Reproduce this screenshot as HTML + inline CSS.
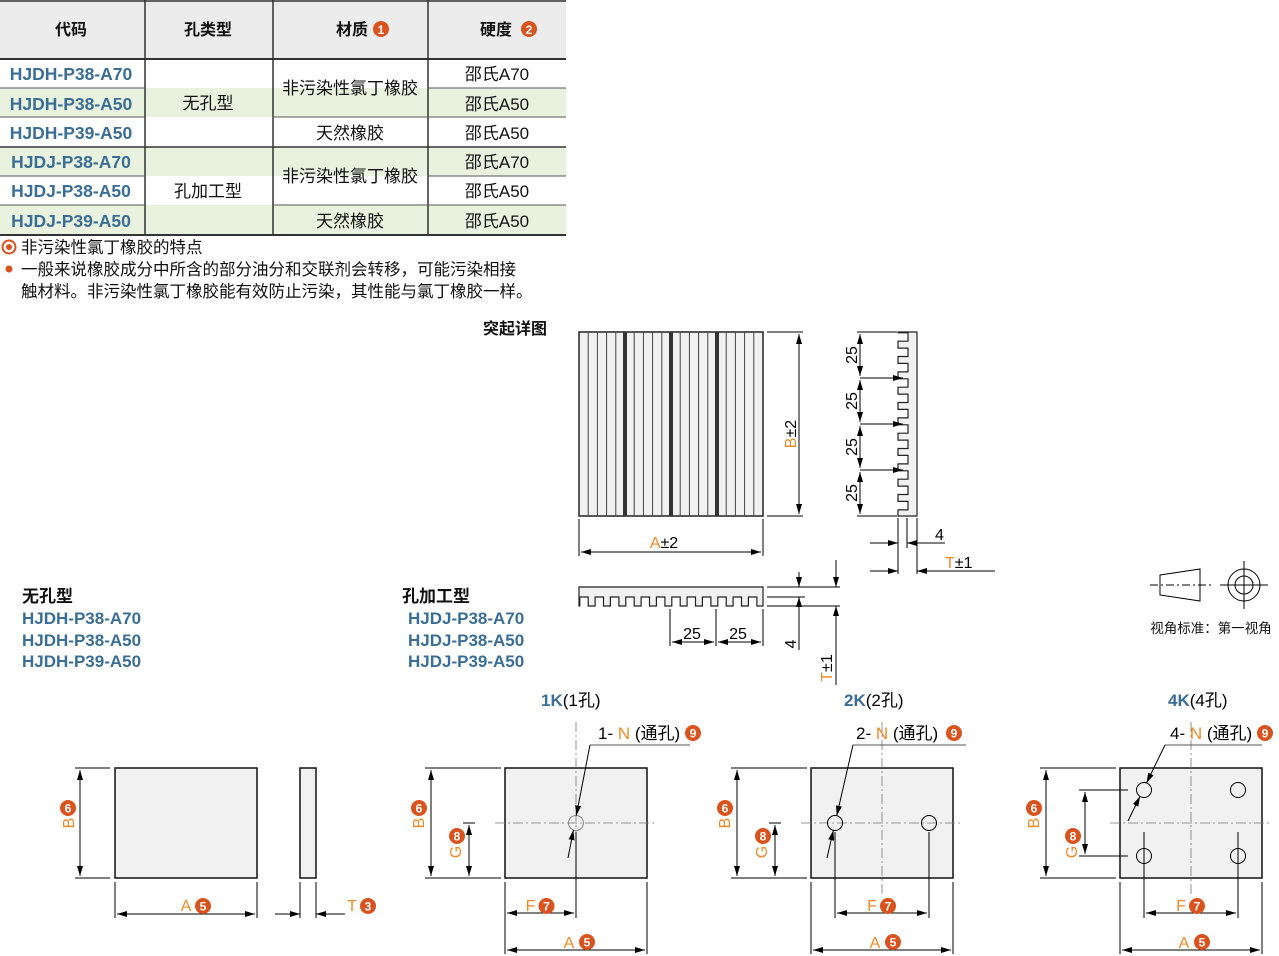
<!DOCTYPE html>
<html><head><meta charset="utf-8"><style>
html,body{margin:0;padding:0;background:#fff;}
svg{display:block;font-family:"Liberation Sans","Noto Sans CJK SC",sans-serif;}
.b{fill:#3b6e96;font-weight:bold;}
.o{fill:#f08a2a;}
</style></head><body>
<svg id="s" width="1279" height="956" viewBox="0 0 1279 956" xmlns="http://www.w3.org/2000/svg">
<defs>
<marker id="a" viewBox="0 0 10 6" refX="10" refY="3" markerWidth="10" markerHeight="6" markerUnits="userSpaceOnUse" orient="auto-start-reverse"><path d="M0,0 L10,3 L0,6 z" fill="#000"/></marker>
</defs>
<!-- table -->
<rect x="0" y="0" width="566" height="59" fill="#ececec"/>
<rect x="0" y="88" width="566" height="29" fill="#e9f2df"/>
<rect x="0" y="147" width="566" height="29" fill="#e9f2df"/>
<rect x="0" y="205" width="566" height="30" fill="#e9f2df"/>
<g stroke="#333" stroke-width="1.5">
<line x1="0" y1="1" x2="566" y2="1"/><line x1="0" y1="59" x2="566" y2="59" stroke-width="2"/>
<line x1="0" y1="147" x2="566" y2="147"/><line x1="0" y1="235" x2="566" y2="235" stroke-width="2"/>
<line x1="145" y1="0" x2="145" y2="235"/><line x1="273" y1="0" x2="273" y2="235"/><line x1="428" y1="0" x2="428" y2="235"/>
</g>
<g stroke="#555" stroke-width="1">
<line x1="0" y1="88" x2="145" y2="88"/><line x1="0" y1="117" x2="145" y2="117"/><line x1="0" y1="176" x2="145" y2="176"/><line x1="0" y1="205" x2="145" y2="205"/>
<line x1="428" y1="88" x2="566" y2="88"/><line x1="428" y1="176" x2="566" y2="176"/>
<line x1="273" y1="117" x2="566" y2="117"/><line x1="273" y1="205" x2="566" y2="205"/>
</g>
<g font-size="16" font-weight="bold" text-anchor="middle" fill="#111">
<text x="71" y="35">代码</text><text x="208" y="35">孔类型</text><text x="352" y="35">材质</text><text x="496" y="35">硬度</text>
</g>
<circle cx="381" cy="29" r="8" fill="#d9531e"/><text x="381" y="34" font-size="12" font-weight="bold" fill="#fff" text-anchor="middle">1</text>
<circle cx="529" cy="29" r="8" fill="#d9531e"/><text x="529" y="34" font-size="12" font-weight="bold" fill="#fff" text-anchor="middle">2</text>
<g font-size="17.5" class="b" text-anchor="middle">
<text x="71" y="80">HJDH-P38-A70</text><text x="71" y="110">HJDH-P38-A50</text><text x="71" y="139">HJDH-P39-A50</text>
<text x="71" y="168">HJDJ-P38-A70</text><text x="71" y="197">HJDJ-P38-A50</text><text x="71" y="227">HJDJ-P39-A50</text>
</g>
<g font-size="17" fill="#111" text-anchor="middle">
<text x="208" y="109">无孔型</text><text x="208" y="197">孔加工型</text>
<text x="350" y="94">非污染性氯丁橡胶</text><text x="350" y="139">天然橡胶</text>
<text x="350" y="182">非污染性氯丁橡胶</text><text x="350" y="227">天然橡胶</text>
<text x="497" y="80">邵氏A70</text><text x="497" y="110">邵氏A50</text><text x="497" y="139">邵氏A50</text>
<text x="497" y="168">邵氏A70</text><text x="497" y="197">邵氏A50</text><text x="497" y="227">邵氏A50</text>
</g>
<circle cx="9" cy="247" r="6.5" fill="none" stroke="#d9531e" stroke-width="2"/><circle cx="9" cy="247" r="3" fill="#d9531e"/>
<g font-size="16.5" fill="#111">
<text x="21" y="253">非污染性氯丁橡胶的特点</text>
<text x="21" y="275">一般来说橡胶成分中所含的部分油分和交联剂会转移，可能污染相接</text>
<text x="21" y="297">触材料。非污染性氯丁橡胶能有效防止污染，其性能与氯丁橡胶一样。</text>
</g>
<circle cx="9" cy="269" r="3.5" fill="#d9531e"/>

<text x="515" y="334" font-size="16" font-weight="bold" text-anchor="middle" fill="#111">突起详图</text>

<!-- front view -->
<rect x="579" y="332" width="184" height="184" fill="#f1f1f1" stroke="#222" stroke-width="1.5"/>
<g id="stripes" stroke="#333" stroke-width="1"></g>
<g stroke="#000" stroke-width="1" fill="none">
<line x1="767" y1="332" x2="803" y2="332"/><line x1="767" y1="516" x2="803" y2="516"/>
<line x1="799" y1="334" x2="799" y2="514" marker-start="url(#a)" marker-end="url(#a)"/>
<line x1="579" y1="519" x2="579" y2="556"/><line x1="763" y1="519" x2="763" y2="556"/>
<line x1="581" y1="552" x2="761" y2="552" marker-start="url(#a)" marker-end="url(#a)"/>
</g>
<text x="796" y="434" font-size="16" transform="rotate(-90 796 434)" text-anchor="middle"><tspan class="o">B</tspan>±2</text>
<text x="664" y="548" font-size="16" text-anchor="middle"><tspan class="o">A</tspan>±2</text>

<!-- side view -->
<path id="side" fill="#f1f1f1" stroke="#222" stroke-width="1.2"></path>
<g stroke="#000" stroke-width="1" fill="none">
<line x1="857" y1="332" x2="897" y2="332"/><line x1="857" y1="516" x2="897" y2="516"/>
<line x1="860" y1="378" x2="903" y2="378" marker-end="url(#a)"/>
<line x1="860" y1="424" x2="903" y2="424" marker-end="url(#a)"/>
<line x1="860" y1="470" x2="903" y2="470" marker-end="url(#a)"/>
<line x1="860" y1="334" x2="860" y2="376" marker-start="url(#a)" marker-end="url(#a)"/>
<line x1="860" y1="380" x2="860" y2="422" marker-start="url(#a)" marker-end="url(#a)"/>
<line x1="860" y1="426" x2="860" y2="468" marker-start="url(#a)" marker-end="url(#a)"/>
<line x1="860" y1="472" x2="860" y2="514" marker-start="url(#a)" marker-end="url(#a)"/>
<line x1="898" y1="518" x2="898" y2="574"/><line x1="907" y1="518" x2="907" y2="548"/><line x1="917" y1="518" x2="917" y2="574"/>
<line x1="870" y1="543" x2="898" y2="543" marker-end="url(#a)"/><line x1="945" y1="543" x2="907" y2="543" marker-end="url(#a)"/>
<line x1="870" y1="571" x2="898" y2="571" marker-end="url(#a)"/><line x1="995" y1="571" x2="917" y2="571" marker-end="url(#a)"/>
</g>
<g font-size="16">
<text x="857" y="355" transform="rotate(-90 857 355)" text-anchor="middle">25</text>
<text x="857" y="401" transform="rotate(-90 857 401)" text-anchor="middle">25</text>
<text x="857" y="447" transform="rotate(-90 857 447)" text-anchor="middle">25</text>
<text x="857" y="493" transform="rotate(-90 857 493)" text-anchor="middle">25</text>
<text x="935" y="540">4</text>
<text x="945" y="568"><tspan class="o">T</tspan>±1</text>
</g>

<!-- bottom view -->
<path id="bot" fill="#f1f1f1" stroke="#222" stroke-width="1.2"></path>
<g stroke="#000" stroke-width="1" fill="none">
<line x1="767" y1="587" x2="840" y2="587"/><line x1="767" y1="597" x2="805" y2="597"/><line x1="767" y1="606" x2="840" y2="606"/>
<line x1="799" y1="572" x2="799" y2="587" marker-end="url(#a)"/><line x1="799" y1="650" x2="799" y2="597" marker-end="url(#a)"/>
<line x1="836" y1="560" x2="836" y2="587" marker-end="url(#a)"/><line x1="836" y1="685" x2="836" y2="606" marker-end="url(#a)"/>
<line x1="670" y1="609" x2="670" y2="646"/><line x1="716" y1="609" x2="716" y2="646"/><line x1="763" y1="609" x2="763" y2="646"/>
<line x1="672" y1="642" x2="714" y2="642" marker-start="url(#a)" marker-end="url(#a)"/>
<line x1="718" y1="642" x2="761" y2="642" marker-start="url(#a)" marker-end="url(#a)"/>
</g>
<g font-size="16">
<text x="692" y="639" text-anchor="middle">25</text><text x="738" y="639" text-anchor="middle">25</text>
<text x="796" y="644" transform="rotate(-90 796 644)" text-anchor="middle">4</text>
<text x="832" y="668" transform="rotate(-90 832 668)" text-anchor="middle"><tspan class="o">T</tspan>±1</text>
</g>

<!-- view angle -->
<g stroke="#000" stroke-width="1" fill="none">
<path d="M1160,575 L1200,569 L1200,601 L1160,595 z"/>
<line x1="1150" y1="585" x2="1213" y2="585" stroke-dasharray="8,3,2,3"/>
<circle cx="1244" cy="585" r="16"/><circle cx="1244" cy="585" r="9"/>
<line x1="1220" y1="585" x2="1268" y2="585"/><line x1="1244" y1="561" x2="1244" y2="609"/>
</g>
<text x="1211" y="633" font-size="13.5" text-anchor="middle" fill="#111">视角标准：第一视角</text>

<!-- labels -->
<g font-size="17">
<text x="22" y="602" font-weight="bold" fill="#111">无孔型</text>
<text x="22" y="624" class="b">HJDH-P38-A70</text><text x="22" y="646" class="b">HJDH-P38-A50</text><text x="22" y="667" class="b">HJDH-P39-A50</text>
<text x="402" y="602" font-weight="bold" fill="#111">孔加工型</text>
<text x="408" y="624" class="b">HJDJ-P38-A70</text><text x="408" y="646" class="b">HJDJ-P38-A50</text><text x="408" y="667" class="b">HJDJ-P39-A50</text>
<text x="541" y="706"><tspan class="b">1K</tspan>(1孔)</text>
<text x="844" y="706"><tspan class="b">2K</tspan>(2孔)</text>
<text x="1168" y="706"><tspan class="b">4K</tspan>(4孔)</text>
<text x="598" y="739">1- <tspan class="o">N</tspan> (通孔)</text>
<text x="856" y="739">2- <tspan class="o">N</tspan> (通孔)</text>
<text x="1170" y="739">4- <tspan class="o">N</tspan> (通孔)</text>
</g>
<g id="draw" stroke="#000" stroke-width="1" fill="none"></g>
<g id="txt" font-size="16"></g>
</svg>
<script>
var NS="http://www.w3.org/2000/svg";
function el(p,t,a,txt){var e=document.createElementNS(NS,t);for(var k in a)e.setAttribute(k,a[k]);if(txt!=null)e.textContent=txt;document.getElementById(p).appendChild(e);return e;}
for(var i=1;i<20;i++){var x=579+i*9.2;var d=(i==5||i==10||i==15);el('stripes','line',{x1:x,y1:332,x2:x,y2:516,'stroke-width':d?4:1,stroke:d?'#333':'#444'});}
var P=184/12;
var p="M908,332 L917,332 L917,516 L898,516";
for(var k=0;k<12;k++){var y0=516-k*P;var a=y0-P*0.4;var b=y0-P;p+=" L898,"+a.toFixed(1)+" L908,"+a.toFixed(1)+" L908,"+(b+P*0.05).toFixed(1)+" L898,"+(b+P*0.05).toFixed(1);}
p+=" L898,332 z";
document.getElementById('side').setAttribute('d',p);
var q="M579,587 L763,587 L763,606";
for(var k=0;k<12;k++){var x0=763-k*P;var a=x0-P*0.4;var b=x0-P+P*0.05;q+=" L"+a.toFixed(1)+",606 L"+a.toFixed(1)+",597 L"+b.toFixed(1)+",597 L"+b.toFixed(1)+",606";}
q+=" L579,606 z";document.getElementById('bot').setAttribute('d',q);
function L(x1,y1,x2,y2,m,ex){var o={x1:x1,y1:y1,x2:x2,y2:y2};if(m&1)o['marker-start']='url(#a)';if(m&2)o['marker-end']='url(#a)';if(ex)for(var k in ex)o[k]=ex[k];el('draw','line',o);}
function badge(x,y,n){el('txt','circle',{cx:x,cy:y,r:8,fill:'#d9531e'});el('txt','text',{x:x,y:y+4.5,'font-size':12,'font-weight':'bold',fill:'#fff','text-anchor':'middle'},n);}
function lab(x,y,s,rot){var t=el('txt','text',{x:x,y:y,fill:'#f08a2a','text-anchor':'middle'},s);if(rot){t.setAttribute('transform','rotate(-90 '+x+' '+y+')');}}
var DS={'stroke-dasharray':'10,3,2,3',stroke:'#777','stroke-width':0.8};
el('draw','rect',{x:115,y:768,width:142,height:110,fill:'#f1f1f1',stroke:'#111','stroke-width':1.5});
el('draw','rect',{x:300,y:768,width:16,height:110,fill:'#f1f1f1',stroke:'#111','stroke-width':1.5});
L(75,768,110,768);L(75,878,110,878);L(80,770,80,876,3);
L(115,882,115,918);L(257,882,257,918);L(117,914,255,914,3);
L(300,882,300,918);L(316,882,316,918);L(275,914,300,914,2);L(345,914,316,914,2);
lab(74,823,'B',1);badge(68,808,'6');lab(186,911,'A');badge(203,906,'5');lab(352,911,'T');badge(368,906,'3');
function plate(x0,holes,Bx,Gx,gy1,gy2,fx1,fx2,ul,end,hh){
 el('draw','rect',{x:x0,y:768,width:142,height:110,fill:'#f1f1f1',stroke:'#111','stroke-width':1.5});
 var cx=x0+71;L(cx,722,cx,895,0,DS);L(x0-10,823,x0+152,823,0,DS);
 holes.forEach(function(h){el('draw','circle',{cx:h[0],cy:h[1],r:7.5,stroke:h[2]||'#000'});});
 L(Bx-6,768,x0-4,768);L(Bx-6,878,x0-4,878);L(Bx,770,Bx,876,3);
 L(Gx-6,gy1,x0+(gy1==823?-30:8),gy1);if(gy2!=878)L(Gx-6,gy2,x0+8,gy2);L(Gx,gy1+2,Gx,gy2-2,3);
 L(x0,882,x0,954);L(x0+142,882,x0+142,954);L(x0+2,950,x0+140,950,3);
 L(fx1,fx1==x0?882:832,fx1,918);L(fx2,fx2==x0+142?882:832,fx2,918);L(fx1+2,913,fx2-2,913,3);
 L(ul[0],745,ul[1],745,0,{stroke:'#555'});
 // leader
 var sx=ul[0],sy=745,ex=end[0],ey=end[1];var dx=ex-sx,dy=ey-sy,len=Math.hypot(dx,dy);dx/=len;dy/=len;
 var hx=hh[0],hy=hh[1];var t=(hx-sx)*dx+(hy-sy)*dy;var px=sx+dx*t,py=sy+dy*t;
 var off=Math.hypot(hx-px,hy-py);var r=7.5;var h=Math.sqrt(Math.max(r*r-off*off,1));
 L(sx,sy,px-dx*h,py-dy*h,2);L(ex,ey,px+dx*h,py+dy*h,2);
 lab(Bx-7,823,'B',1);badge(Bx-12,808,'6');lab(Gx-8,852,'G',1);badge(Gx-12,836,'8');
 lab((fx1+fx2)/2-10,911,'F');badge((fx1+fx2)/2+6,906,'7');
 lab(x0+64,948,'A');badge(x0+82,942,'5');
}
plate(505,[[576,823,'#888']],431,469,823,878,505,576,[590,690],[568,858],[576,823]);
badge(693,733,'9');
plate(811,[[835,823],[929,823]],737,775,823,878,835,929,[853,966],[827,858],[835,823]);
badge(954,733,'9');
plate(1120,[[1144,790],[1238,790],[1144,856],[1238,856]],1046,1085,790,856,1144,1238,[1165,1262],[1128,821],[1144,790]);
badge(1265,733,'9');
</script>
</body></html>
